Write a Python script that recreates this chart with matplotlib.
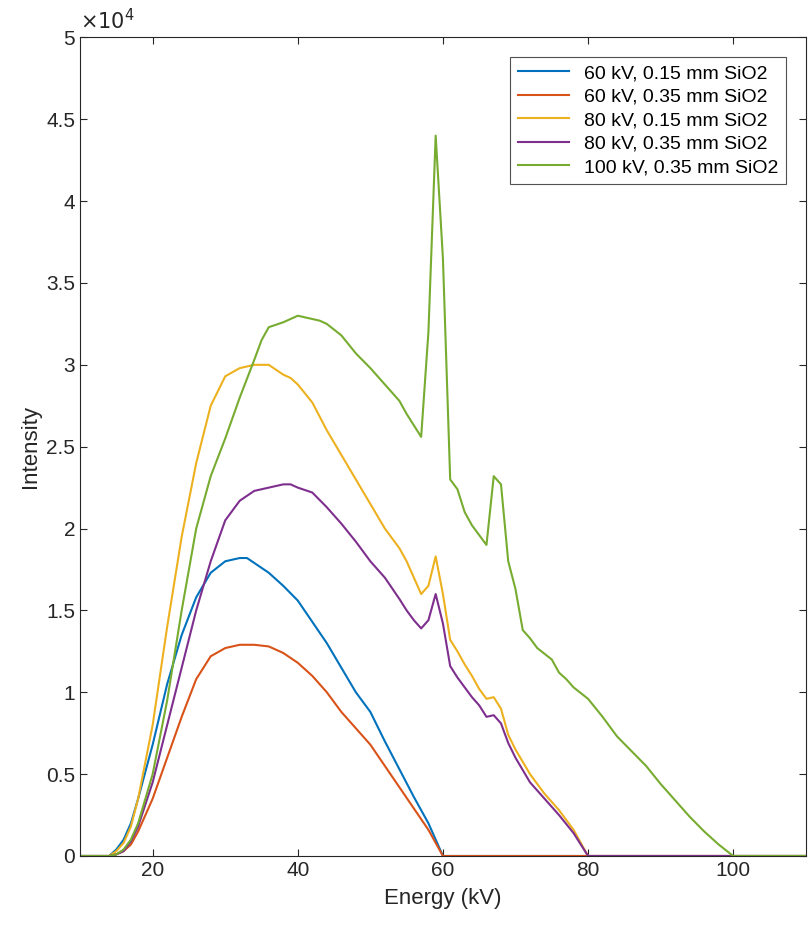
import numpy as np
import matplotlib.pyplot as plt

plt.rcParams['font.family'] = ['Liberation Sans', 'DejaVu Sans']

# energy (kV) / intensity pairs
e_60a = [10, 14, 15, 16, 17, 18, 20, 22, 24, 26, 28, 30, 32, 33, 34, 36, 38, 40, 42, 44, 46, 48, 50, 52, 54, 56, 58, 60, 110]
i_60a = [0, 0, 400, 1000, 2000, 3500, 6800, 10500, 13500, 15800, 17300, 18000, 18200, 18200, 17900, 17300, 16500, 15600, 14300, 13000, 11500, 10000, 8800, 7000, 5300, 3600, 2000, 0, 0]

e_60b = [10, 14, 15, 16, 17, 18, 20, 22, 24, 26, 28, 30, 32, 34, 36, 38, 40, 42, 44, 46, 48, 50, 52, 54, 56, 58, 60, 110]
i_60b = [0, 0, 100, 300, 700, 1500, 3500, 6000, 8500, 10800, 12200, 12700, 12900, 12900, 12800, 12400, 11800, 11000, 10000, 8800, 7800, 6800, 5500, 4200, 2900, 1600, 0, 0]

e_80a = [10, 14, 15, 16, 17, 18, 20, 22, 24, 26, 28, 30, 32, 34, 36, 38, 39, 40, 42, 44, 46, 48, 50, 52, 54, 55, 56, 57, 58, 59, 60, 61, 62, 63, 64, 65, 66, 67, 68, 69, 70, 72, 74, 76, 78, 80, 110]
i_80a = [0, 0, 300, 800, 1800, 3500, 8000, 14000, 19500, 24000, 27500, 29300, 29800, 30000, 30000, 29400, 29200, 28800, 27700, 26000, 24500, 23000, 21500, 20000, 18800, 18000, 17000, 16000, 16500, 18300, 16000, 13200, 12500, 11700, 11000, 10200, 9600, 9700, 9000, 7400, 6500, 5000, 3800, 2800, 1600, 0, 0]

e_80b = [10, 14, 15, 16, 17, 18, 20, 22, 24, 26, 28, 30, 32, 34, 36, 38, 39, 40, 42, 44, 46, 48, 50, 52, 54, 55, 56, 57, 58, 59, 60, 61, 62, 63, 64, 65, 66, 67, 68, 69, 70, 72, 74, 76, 78, 80, 110]
i_80b = [0, 0, 100, 300, 900, 1800, 4500, 8000, 11500, 15000, 18000, 20500, 21700, 22300, 22500, 22700, 22700, 22500, 22200, 21300, 20300, 19200, 18000, 17000, 15700, 15000, 14400, 13900, 14400, 16000, 14200, 11600, 10900, 10300, 9700, 9200, 8500, 8600, 8100, 6900, 6000, 4500, 3500, 2500, 1400, 0, 0]

e_100 = [10, 14, 15, 16, 17, 18, 20, 22, 24, 26, 28, 30, 32, 34, 35, 36, 38, 40, 41, 42, 43, 44, 46, 48, 50, 52, 54, 55, 56, 57, 58, 59, 60, 61, 62, 63, 64, 65, 66, 67, 68, 69, 70, 71, 72, 73, 75, 76, 77, 78, 80, 82, 84, 86, 88, 90, 92, 94, 96, 98, 100, 110]
i_100 = [0, 0, 100, 400, 1000, 2000, 5000, 9500, 15000, 20000, 23200, 25500, 28000, 30300, 31500, 32300, 32600, 33000, 32900, 32800, 32700, 32500, 31800, 30700, 29800, 28800, 27800, 27000, 26300, 25600, 32000, 44000, 36500, 23000, 22400, 21000, 20200, 19600, 19000, 23200, 22700, 18000, 16300, 13800, 13300, 12700, 12000, 11200, 10800, 10300, 9600, 8500, 7300, 6400, 5500, 4400, 3400, 2400, 1500, 700, 0, 0]

series = [
    (e_60a, i_60a, '60 kV, 0.15 mm SiO2', '#0072BD'),
    (e_60b, i_60b, '60 kV, 0.35 mm SiO2', '#D95319'),
    (e_80a, i_80a, '80 kV, 0.15 mm SiO2', '#EDB120'),
    (e_80b, i_80b, '80 kV, 0.35 mm SiO2', '#7E2F8E'),
    (e_100, i_100, '100 kV, 0.35 mm SiO2', '#77AC30'),
]

fig = plt.figure(figsize=(8.09, 9.35), dpi=100)
ax = fig.add_axes([0.099, 0.0845, 0.897, 0.8755])
for e, i, lab, c in series:
    ax.plot(e, np.array(i) / 1e4, color=c, lw=1.5, label=lab)

ax.set_xlim(10, 110)
ax.set_ylim(0, 5)
ax.set_xticks([20, 40, 60, 80, 100])
ax.set_yticks(np.arange(0, 5.01, 0.5))
ax.set_yticklabels(['0', '0.5', '1', '1.5', '2', '2.5', '3', '3.5', '4', '4.5', '5'])
ax.tick_params(direction='in', labelsize=15, colors='#262626', top=True, right=True, length=5)
for s in ax.spines.values():
    s.set_color('#262626')
    s.set_linewidth(0.8)
ax.set_xlabel('Energy (kV)', fontsize=16, color='#262626', labelpad=6)
ax.set_ylabel('Intensity', fontsize=16, color='#262626')
ax.text(0.0, 1.005, r'$\times10^{4}$', transform=ax.transAxes, fontsize=15,
        color='#262626', va='bottom', ha='left')
leg = ax.legend(loc='upper right', fontsize=14, frameon=True, fancybox=False,
                edgecolor='#262626', borderaxespad=1.0, handlelength=2.6,
                labelspacing=0.3)
leg.get_frame().set_linewidth(0.8)

fig.savefig('out.png', dpi=100)
